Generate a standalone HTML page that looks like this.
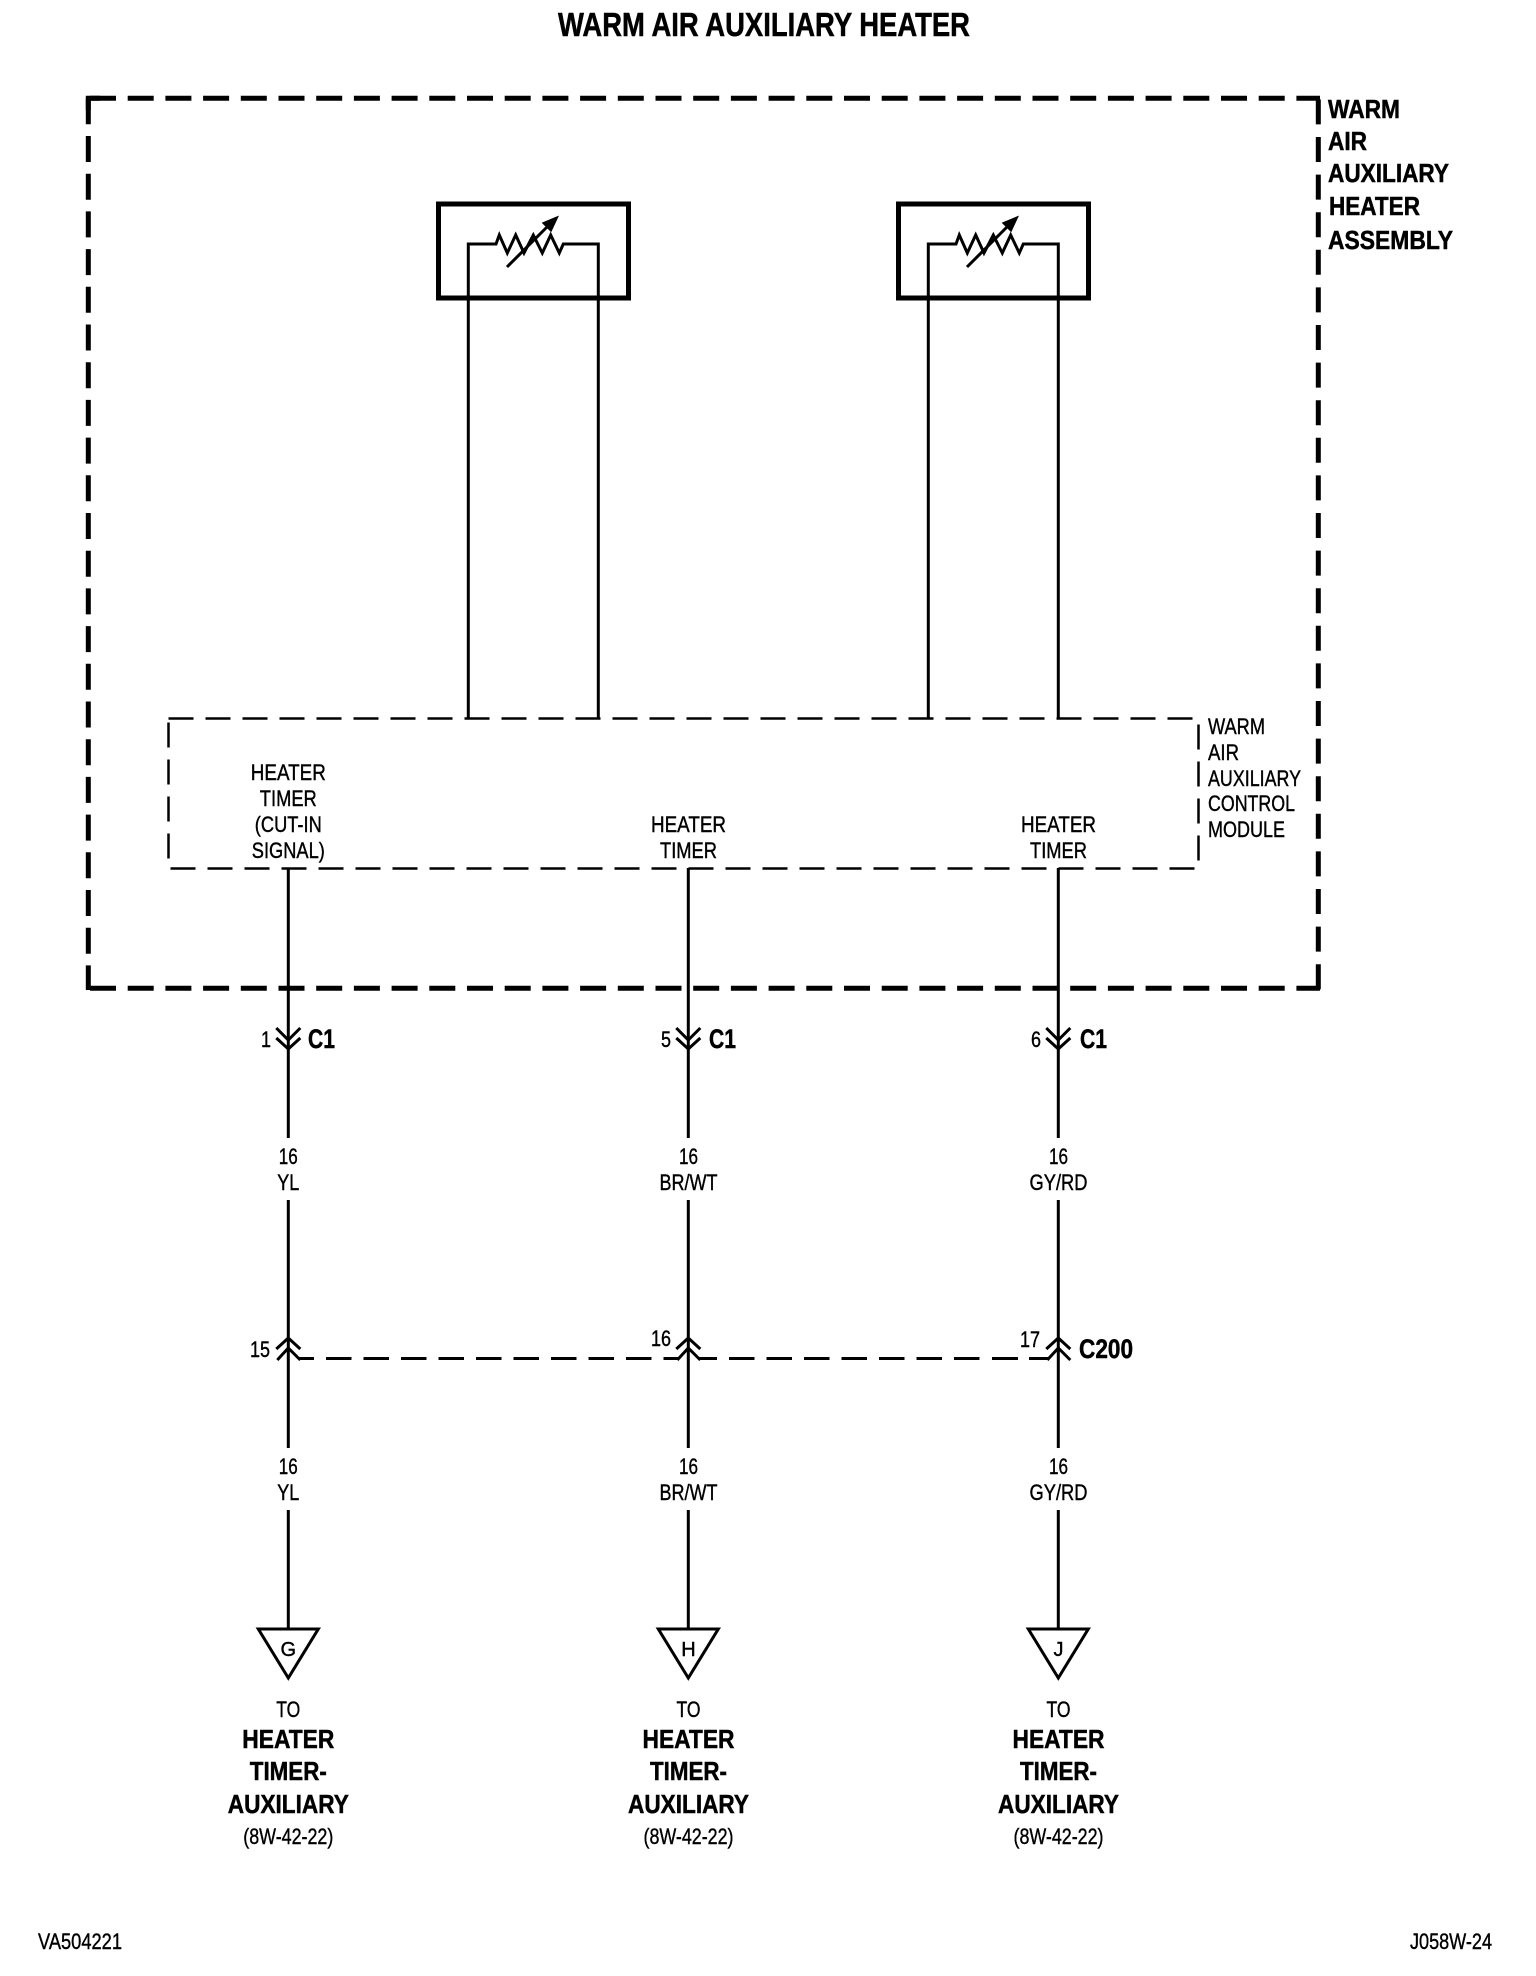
<!DOCTYPE html>
<html><head><meta charset="utf-8"><style>
html,body{margin:0;padding:0;background:#fff}
svg{display:block}
text{font-family:"Liberation Sans",sans-serif;fill:#000;font-size:22.5px;text-anchor:middle;stroke:#000;stroke-width:.4px}
.b{font-weight:bold;font-size:26px;stroke-width:.5px}
.s{text-anchor:start}
.e{text-anchor:end}
</style></head><body>
<svg width="1536" height="1976" viewBox="0 0 1536 1976" xmlns="http://www.w3.org/2000/svg">
<defs>
<g id="res" fill="none" stroke="#000">
<rect x="438.5" y="204" width="190" height="94" stroke-width="5"/>
<path d="M468.3 718V244H496L499.3 235 507.3 253 515.7 235 524 253 533.3 235 542.3 253 550.7 235 559.3 253 563.3 244H598.3V718" stroke-width="3"/>
<path d="M507 267L548 226" stroke-width="3"/>
<path d="M557.5 217L543 223 551 231Z" fill="#000" stroke-width="1.5"/>
</g>
<g id="c1" fill="none" stroke="#000" stroke-width="3"><path d="M-12 1028L0 1040 12 1028M-12 1038L0 1049 12 1038"/></g>
<g id="c2" fill="none" stroke="#000" stroke-width="3"><path d="M-12 1349L0 1338 12 1349M-11 1360L0 1348 12 1360"/></g>
<g id="end">
<path d="M-30 1629H30L0 1678Z" fill="none" stroke="#000" stroke-width="3"/>
<path d="M0 868V1138M0 1200V1448M0 1510V1628" stroke="#000" stroke-width="3"/>
</g>
</defs>
<text class="b" x="764" y="36" style="font-size:33px" textLength="412" lengthAdjust="spacingAndGlyphs">WARM AIR AUXILIARY HEATER</text>

<path d="M86 98.3H100M88.3 96V110" stroke="#000" stroke-width="5" fill="none"/>
<line x1="90" y1="98.3" x2="1320" y2="98.3" stroke="#000" stroke-width="5" stroke-dasharray="26 11.7"/>
<line x1="88.3" y1="98.3" x2="88.3" y2="990" stroke="#000" stroke-width="5" stroke-dasharray="26 11.7"/>
<line x1="90" y1="988.3" x2="1320" y2="988.3" stroke="#000" stroke-width="5" stroke-dasharray="26 11.7"/>
<line x1="1318.3" y1="99.4" x2="1318.3" y2="990" stroke="#000" stroke-width="5" stroke-dasharray="25 12.6"/>

<rect x="168.5" y="718.5" width="1030" height="150" fill="none" stroke="#000" stroke-width="2.5" stroke-dasharray="25 12"/>
<use href="#res"/>
<use href="#res" x="460"/>

<text class="b s" x="1328" y="118" textLength="72" lengthAdjust="spacingAndGlyphs">WARM</text>
<text class="b s" x="1328" y="150" textLength="39" lengthAdjust="spacingAndGlyphs">AIR</text>
<text class="b s" x="1328" y="182" textLength="121" lengthAdjust="spacingAndGlyphs">AUXILIARY</text>
<text class="b s" x="1329" y="215" textLength="91" lengthAdjust="spacingAndGlyphs">HEATER</text>
<text class="b s" x="1328" y="249" textLength="125" lengthAdjust="spacingAndGlyphs">ASSEMBLY</text>

<text class="s" x="1208" y="734" textLength="57" lengthAdjust="spacingAndGlyphs">WARM</text>
<text class="s" x="1208" y="760" textLength="31" lengthAdjust="spacingAndGlyphs">AIR</text>
<text class="s" x="1208" y="786" textLength="93" lengthAdjust="spacingAndGlyphs">AUXILIARY</text>
<text class="s" x="1208" y="811" textLength="87" lengthAdjust="spacingAndGlyphs">CONTROL</text>
<text class="s" x="1208" y="837" textLength="77" lengthAdjust="spacingAndGlyphs">MODULE</text>

<text x="288.3" y="780" textLength="75" lengthAdjust="spacingAndGlyphs">HEATER</text>
<text x="288.3" y="806" textLength="57" lengthAdjust="spacingAndGlyphs">TIMER</text>
<text x="288.3" y="832" textLength="67" lengthAdjust="spacingAndGlyphs">(CUT-IN</text>
<text x="288.3" y="858" textLength="73" lengthAdjust="spacingAndGlyphs">SIGNAL)</text>
<text x="688.5" y="832" textLength="75" lengthAdjust="spacingAndGlyphs">HEATER</text>
<text x="688.5" y="858" textLength="57" lengthAdjust="spacingAndGlyphs">TIMER</text>
<text x="1058.5" y="832" textLength="75" lengthAdjust="spacingAndGlyphs">HEATER</text>
<text x="1058.5" y="858" textLength="57" lengthAdjust="spacingAndGlyphs">TIMER</text>

<use href="#end" x="288.3"/><use href="#end" x="688.3"/><use href="#end" x="1058.3"/>
<use href="#c1" x="288.3"/><use href="#c1" x="688.3"/><use href="#c1" x="1058.3"/>
<use href="#c2" x="288.3"/><use href="#c2" x="688.3"/><use href="#c2" x="1058.3"/>
<path d="M299 1358.5H314M326 1358.5H351.5M363.5 1358.5H389M401 1358.5H426.5M438.5 1358.5H464M476 1358.5H501.5M513.5 1358.5H539M551 1358.5H576.5M588.5 1358.5H614M626 1358.5H651.5M663.5 1358.5H679M698 1358.5H717M729 1358.5H754.5M766.5 1358.5H792M804 1358.5H829.5M841.5 1358.5H867M879 1358.5H904.5M916.5 1358.5H942M954 1358.5H979.5M992 1358.5H1018M1029 1358.5H1049" stroke="#000" stroke-width="3" fill="none"/>

<text class="e" x="271" y="1047" textLength="10" lengthAdjust="spacingAndGlyphs">1</text><text class="b s" x="308" y="1048" style="font-size:27px" textLength="27" lengthAdjust="spacingAndGlyphs">C1</text>
<text class="e" x="671" y="1047" textLength="10" lengthAdjust="spacingAndGlyphs">5</text><text class="b s" x="709" y="1048" style="font-size:27px" textLength="27" lengthAdjust="spacingAndGlyphs">C1</text>
<text class="e" x="1041" y="1047" textLength="10" lengthAdjust="spacingAndGlyphs">6</text><text class="b s" x="1080" y="1048" style="font-size:27px" textLength="27" lengthAdjust="spacingAndGlyphs">C1</text>

<text x="288.3" y="1164" textLength="19" lengthAdjust="spacingAndGlyphs">16</text><text x="288.3" y="1190" textLength="22" lengthAdjust="spacingAndGlyphs">YL</text>
<text x="688.5" y="1164" textLength="19" lengthAdjust="spacingAndGlyphs">16</text><text x="688.5" y="1190" textLength="58" lengthAdjust="spacingAndGlyphs">BR/WT</text>
<text x="1058.5" y="1164" textLength="19" lengthAdjust="spacingAndGlyphs">16</text><text x="1058.5" y="1190" textLength="58" lengthAdjust="spacingAndGlyphs">GY/RD</text>

<text class="e" x="270" y="1357" textLength="20" lengthAdjust="spacingAndGlyphs">15</text>
<text class="e" x="671" y="1346" textLength="20" lengthAdjust="spacingAndGlyphs">16</text>
<text class="e" x="1040" y="1347" textLength="20" lengthAdjust="spacingAndGlyphs">17</text>
<text class="b s" x="1079" y="1358" style="font-size:27px" textLength="54" lengthAdjust="spacingAndGlyphs">C200</text>

<text x="288.3" y="1474" textLength="19" lengthAdjust="spacingAndGlyphs">16</text><text x="288.3" y="1500" textLength="22" lengthAdjust="spacingAndGlyphs">YL</text>
<text x="688.5" y="1474" textLength="19" lengthAdjust="spacingAndGlyphs">16</text><text x="688.5" y="1500" textLength="58" lengthAdjust="spacingAndGlyphs">BR/WT</text>
<text x="1058.5" y="1474" textLength="19" lengthAdjust="spacingAndGlyphs">16</text><text x="1058.5" y="1500" textLength="58" lengthAdjust="spacingAndGlyphs">GY/RD</text>

<text x="288.3" y="1656" style="font-size:20px">G</text><text x="688.5" y="1656" style="font-size:20px">H</text><text x="1058.5" y="1656" style="font-size:20px">J</text>

<g id="t1">
<text x="288.3" y="1717" textLength="24" lengthAdjust="spacingAndGlyphs">TO</text>
<text class="b" x="288.3" y="1748" textLength="92" lengthAdjust="spacingAndGlyphs">HEATER</text>
<text class="b" x="288.3" y="1780" textLength="77" lengthAdjust="spacingAndGlyphs">TIMER-</text>
<text class="b" x="288.3" y="1813" textLength="121" lengthAdjust="spacingAndGlyphs">AUXILIARY</text>
<text x="288.3" y="1844" textLength="90" lengthAdjust="spacingAndGlyphs">(8W-42-22)</text>
</g>
<use href="#t1" x="400.2"/>
<use href="#t1" x="770.2"/>

<text class="s" x="38" y="1949" textLength="84" lengthAdjust="spacingAndGlyphs">VA504221</text>
<text class="s" x="1410" y="1949" textLength="82" lengthAdjust="spacingAndGlyphs">J058W-24</text>
</svg>
</body></html>
